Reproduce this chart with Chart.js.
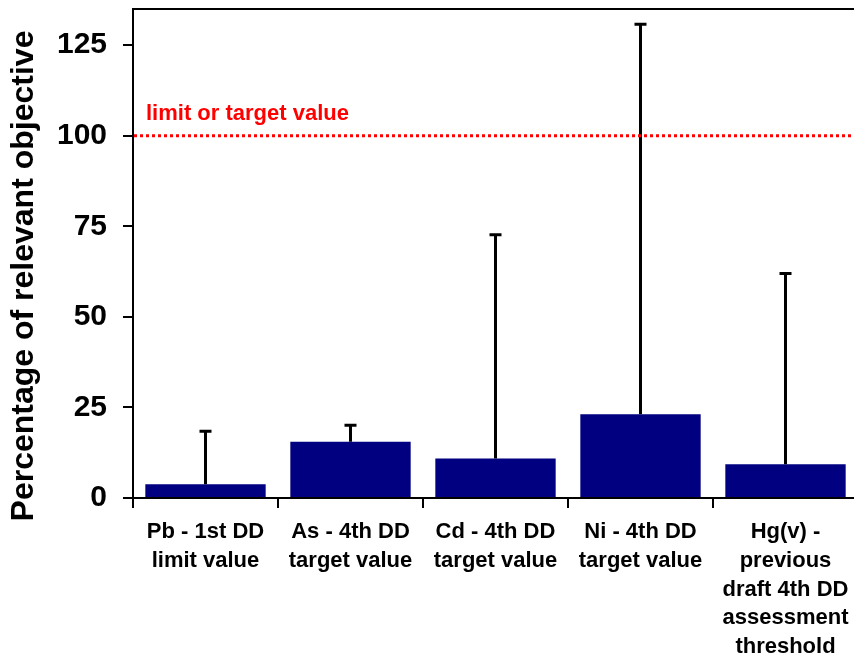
<!DOCTYPE html>
<html lang="en">
<head>
    <meta charset="UTF-8" />
    <title>Percentage of relevant objective</title>
    <style>
        body {
            margin: 0;
            background: #fff;
            overflow: hidden;
        }

        /* a little wider than the window: the right edge of the plot is cut off in the original */
        #wrap {
            width: 860px;
            height: 654px;
        }
    </style>
</head>
<body>
    <div id="wrap"><canvas id="chart"></canvas></div>

    <script src="https://cdn.jsdelivr.net/npm/chart.js"></script>
    <script>
        // Data
        const categories = [
            ["Pb - 1st DD", "limit value"],
            ["As - 4th DD", "target value"],
            ["Cd - 4th DD", "target value"],
            ["Ni - 4th DD", "target value"],
            ["Hg(v) -", "previous", "draft 4th DD", "assessment", "threshold"]
        ];
        const meanValues = [3.8, 15.5, 10.9, 23.1, 9.3];
        const upperValues = [18.4, 20.1, 72.7, 130.8, 62.0];

        const limitValue = 100;
        const limitLabel = "limit or target value";
        const yTitle = "Percentage of relevant objective";

        const FONT = "'Liberation Sans', Arial, sans-serif";

        // upper error bars, drawn from bar top to the max value
        const errorBars = {
            id: 'errorBars',
            afterDatasetsDraw(chart) {
                const ctx = chart.ctx;
                const y = chart.scales.y;
                const meta = chart.getDatasetMeta(0);
                ctx.save();
                ctx.strokeStyle = '#000';
                ctx.lineWidth = 3;
                meta.data.forEach((bar, i) => {
                    const x = bar.x;
                    const yTop = y.getPixelForValue(upperValues[i]);
                    const yBase = y.getPixelForValue(meanValues[i]);
                    ctx.beginPath();
                    ctx.moveTo(x, yBase);
                    ctx.lineTo(x, yTop);
                    ctx.moveTo(x - 6, yTop);
                    ctx.lineTo(x + 6, yTop);
                    ctx.stroke();
                });
                ctx.restore();
            }
        };

        // red dotted limit line + its label, top border, y title
        const extras = {
            id: 'extras',
            afterDatasetsDraw(chart) {
                const ctx = chart.ctx;
                const area = chart.chartArea;
                const yPix = chart.scales.y.getPixelForValue(limitValue);
                ctx.save();
                ctx.strokeStyle = '#ff0000';
                ctx.lineWidth = 3;
                ctx.setLineDash([3, 3]);
                ctx.beginPath();
                ctx.moveTo(area.left + 1, yPix);
                ctx.lineTo(area.right, yPix);
                ctx.stroke();
                ctx.setLineDash([]);

                ctx.fillStyle = '#ff0000';
                ctx.font = 'bold 22px ' + FONT;
                ctx.textBaseline = 'middle';
                ctx.fillText(limitLabel, area.left + 13, yPix - 22);

                ctx.strokeStyle = '#000';
                ctx.lineWidth = 2;
                ctx.beginPath();
                ctx.moveTo(area.left, area.top);
                ctx.lineTo(area.right, area.top);
                ctx.stroke();

                // axis title sits a bit lower than the middle of the axis
                ctx.translate(24, 276);
                ctx.rotate(-Math.PI / 2);
                ctx.fillStyle = '#000';
                ctx.font = 'bold 32px ' + FONT;
                ctx.textAlign = 'center';
                ctx.textBaseline = 'middle';
                ctx.fillText(yTitle, 0, 0);
                ctx.restore();
            }
        };

        const ctx = document.getElementById('chart').getContext('2d');
        const chart = new Chart(ctx, {
            type: 'bar',
            data: {
                labels: categories,
                datasets: [{
                    data: meanValues,
                    backgroundColor: '#000080',
                    borderWidth: 0,
                    categoryPercentage: 1,
                    barPercentage: 0.83
                }]
            },
            options: {
                responsive: true,
                maintainAspectRatio: false,
                animation: false,
                layout: {
                    padding: { top: 9, right: 2, left: 0, bottom: 0 }
                },
                plugins: {
                    legend: { display: false },
                    tooltip: { enabled: false }
                },
                scales: {
                    y: {
                        min: 0,
                        max: 135,
                        afterFit(scale) {
                            scale.width = 133;
                            scale.paddingTop = 0;
                            scale.paddingBottom = 0;
                        },
                        ticks: {
                            stepSize: 25,
                            includeBounds: false,
                            color: '#000',
                            padding: 16,
                            font: { family: FONT, size: 30, weight: 'bold' }
                        },
                        grid: {
                            drawOnChartArea: false,
                            drawTicks: true,
                            tickLength: 10,
                            color: '#000',
                            lineWidth: 2
                        },
                        border: { color: '#000', width: 2 }
                    },
                    x: {
                        afterFit(scale) {
                            scale.height = 156;
                            scale.paddingLeft = 0;
                            scale.paddingRight = 0;
                        },
                        ticks: {
                            color: '#000',
                            padding: 10,
                            maxRotation: 0,
                            autoSkip: false,
                            font: { family: FONT, size: 22, weight: 'bold', lineHeight: 1.3 }
                        },
                        grid: {
                            offset: true,
                            drawOnChartArea: false,
                            drawTicks: true,
                            tickLength: 10,
                            color: '#000',
                            lineWidth: 2
                        },
                        border: { color: '#000', width: 2 }
                    }
                }
            },
            plugins: [errorBars, extras]
        });
    </script>
</body>
</html>
